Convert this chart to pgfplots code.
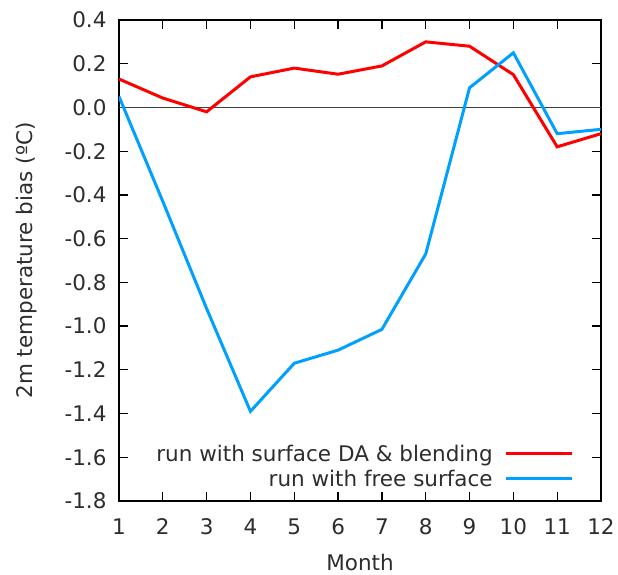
\documentclass[border=0pt]{standalone}
\usepackage{fontspec}
\setmainfont{DejaVu Sans}
\usepackage{pgfplots}
\pgfplotsset{compat=1.18}
\definecolor{runred}{RGB}{255,0,0}
\definecolor{runblue}{RGB}{0,160,255}
\definecolor{txt}{RGB}{45,45,45}

\begin{document}
\begin{tikzpicture}
% fixed page: axis box at (0,0)-(482,481), margins as in the reference
\useasboundingbox (-119bp,-74bp) rectangle (499bp,501bp);
\begin{axis}[
  width=482bp, height=481bp, scale only axis,
  xmin=1, xmax=12, ymin=-1.8, ymax=0.4,
  xtick={1,...,12},
  ytick={-1.8,-1.6,-1.4,-1.2,-1.0,-0.8,-0.6,-0.4,-0.2,0.0,0.2,0.4},
  /pgf/number format/assume math mode=true,
  yticklabel style={xshift=-9bp, /pgf/number format/fixed,
    /pgf/number format/fixed zerofill, /pgf/number format/precision=1},
  tick align=inside, major tick length=9bp,
  every tick/.style={black, line width=1.2bp},
  axis line style={line width=1.8bp},
  font=\fontsize{21.5bp}{25bp}\selectfont,
  every tick label/.append style={text=txt},
  xticklabel style={yshift=-14bp},
  xlabel={Month}, ylabel={2m temperature bias (ºC)},
  every axis x label/.style={at={(axis description cs:0.5,0)}, anchor=base, yshift=-69bp, text=txt},
  every axis y label/.style={at={(axis description cs:0,0.5)}, xshift=-92bp, rotate=90, anchor=center, text=txt},
  legend style={draw=none, fill=none, at={(rel axis cs:0.949,0.019)}, anchor=south east,
    legend cell align=right, text=txt, row sep=3bp,
    nodes={inner xsep=11.5bp}},
  legend plot pos=right,
  legend image code/.code={\draw[#1] (0bp,0bp) -- (66bp,0bp);},
]
\addplot[black!75, line width=1.3bp, forget plot] coordinates {(1,0) (12,0)};
\addplot[runred, line width=3bp] coordinates {
(1,0.13) (2,0.043) (3,-0.02) (4,0.14) (5,0.18) (6,0.152)
(7,0.19) (8,0.30) (9,0.28) (10,0.15) (11,-0.18) (12,-0.12)};
\addlegendentry{run with surface DA \& blending}
\addplot[runblue, line width=3bp] coordinates {
(1,0.05) (2,-0.43) (3,-0.92) (4,-1.39) (5,-1.17) (6,-1.11)
(7,-1.015) (8,-0.67) (9,0.09) (10,0.25) (11,-0.12) (12,-0.10)};
\addlegendentry{run with free surface}
\end{axis}
\end{tikzpicture}
\end{document}
